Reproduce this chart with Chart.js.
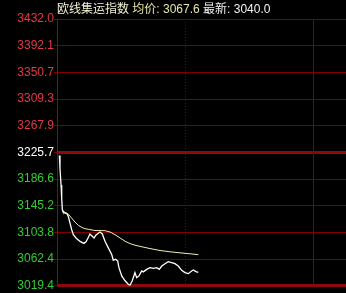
<!DOCTYPE html>
<html>
<head>
<meta charset="utf-8">
<script src="https://cdn.jsdelivr.net/npm/chart.js@4"></script>
<style>
  html, body { margin: 0; padding: 0; background: #000; }
  #wrap { width: 346px; height: 293px; }
</style>
</head>
<body>
<div id="wrap"><canvas id="minuteChart" width="346" height="293"></canvas></div>
<script>
const titleName = "欧线集运指数";
const avgText = "均价: 3067.6";
const lastText = "最新: 3040.0";

const yTickLabels = ["3019.4", "3062.4", "3103.8", "3145.2", "3186.6", "3225.7",
                     "3267.9", "3309.3", "3350.7", "3392.1", "3432.0"];

// minutes since open
const priceTimes = [2.2, 2.8, 3.8, 4.4, 5.0, 5.6, 7.5, 9.4, 10.6, 12.2, 13.8, 15.3, 17.8, 21.6,
  25.3, 27.2, 29.1, 30.9, 32.8, 34.7, 36.6, 40.3, 42.5, 45, 48.1, 51.3, 52.8, 55, 56.9,
  58.1, 60.7, 63.8, 66.8, 68.4, 70.6, 73.1, 74.7, 76.9, 79.4, 80.9, 84.1, 87.2, 90.3,
  93.5, 95.9, 98.2, 101.3, 104.3, 107.5, 110.6, 113.7, 116.9, 120, 123.1, 126.3, 127.8,
  130.3, 132.5];
const priceValues = [3221.0, 3200.7, 3175.1, 3154.7, 3136.8, 3134.3, 3131.7, 3130.9, 3126.7,
  3116.4, 3106.1, 3098.5, 3093.4, 3088.0, 3085.0, 3087.3, 3093.4, 3099.5, 3096.5, 3093.4,
  3098.0, 3102.6, 3099.5, 3088.3, 3078.1, 3067.8, 3058.9, 3060.5, 3057.7, 3047.4, 3034.7,
  3027.1, 3021.9, 3020.3, 3027.1, 3039.8, 3032.1, 3034.7, 3042.4, 3040.9, 3044.8, 3047.4,
  3046.4, 3047.4, 3044.8, 3050.0, 3053.6, 3056.6, 3055.1, 3053.6, 3050.0, 3043.3, 3039.8,
  3038.2, 3042.4, 3043.9, 3041.3, 3040.0];

const avgTimes = [5.6, 8.4, 10.6, 13.8, 16.9, 20, 23.2, 26.3, 29.3, 35.6, 45, 49.7, 54.4,
  59.1, 63.8, 68.4, 73.1, 77.8, 87.2, 96.6, 105.9, 115.3, 124.7, 132.5];
const avgValues = [3134.3, 3132.5, 3130.2, 3124.0, 3117.9, 3112.9, 3109.8, 3107.7, 3106.8,
  3104.9, 3104.6, 3102.6, 3098.5, 3093.4, 3088.3, 3084.7, 3082.2, 3080.4, 3077.0, 3074.0,
  3072.0, 3070.4, 3068.9, 3067.6];

const sessionMid = 120;
const sessionEnd = 240;
const xMax = 271;

const yMin = parseFloat(yTickLabels[0]);
const yMax = parseFloat(yTickLabels[yTickLabels.length - 1]);
const midIndex = 5;

function labelColor(i) {
  if (i === midIndex) return "#ffffff";
  return i > midIndex ? "#e23a48" : "#33cc33";
}

const bgPlugin = {
  id: "bg",
  beforeDraw(chart) {
    const c = chart.ctx;
    c.save();
    c.fillStyle = "#000";
    c.fillRect(0, 0, chart.width, chart.height);
    c.restore();
  }
};

const sessionLines = {
  id: "sessionLines",
  beforeDatasetsDraw(chart) {
    const c = chart.ctx;
    const xs = chart.scales.x;
    const area = chart.chartArea;
    c.save();
    c.strokeStyle = "#800000";
    c.lineWidth = 1;
    // solid session end
    let px = Math.round(xs.getPixelForValue(sessionEnd)) + 0.5;
    c.beginPath();
    c.moveTo(px, area.top);
    c.lineTo(px, area.bottom);
    c.stroke();
    // dotted midday
    px = Math.round(xs.getPixelForValue(sessionMid)) + 0.5;
    c.setLineDash([1, 2]);
    c.beginPath();
    c.moveTo(px, area.top);
    c.lineTo(px, area.bottom);
    c.stroke();
    c.restore();
  }
};

const titlePlugin = {
  id: "titleText",
  afterDraw(chart) {
    const c = chart.ctx;
    c.save();
    c.font = '12px "Liberation Sans", "Noto Sans CJK SC", sans-serif';
    c.textBaseline = "alphabetic";
    let x = 57;
    const y = 13;
    const parts = [[titleName + " ", "#f2f2d2"], [avgText + " ", "#e6e6a6"], [lastText, "#f0f0f0"]];
    parts.forEach(([t, col]) => {
      c.fillStyle = col;
      c.fillText(t, x, y);
      x += c.measureText(t).width;
    });
    c.restore();
  }
};

const ctx = document.getElementById("minuteChart").getContext("2d");
const chart = new Chart(ctx, {
  type: "line",
  data: {
    datasets: [
      {
        label: "均价",
        data: avgTimes.map((t, i) => ({ x: t, y: avgValues[i] })),
        borderColor: "#efefb4",
        borderWidth: 1,
        pointRadius: 0,
        tension: 0
      },
      {
        label: "价格",
        data: priceTimes.map((t, i) => ({ x: t, y: priceValues[i] })),
        borderColor: "#ffffff",
        borderWidth: 1.3,
        pointRadius: 0,
        tension: 0
      }
    ]
  },
  options: {
    responsive: false,
    animation: false,
    layout: { padding: { top: 19, bottom: 5, left: 0, right: 0 } },
    plugins: { legend: { display: false }, tooltip: { enabled: false } },
    scales: {
      x: { type: "linear", min: 0, max: xMax, display: false },
      y: {
        type: "linear",
        min: yMin,
        max: yMax,
        afterFit(scale) { scale.width = 57; },
        afterBuildTicks(scale) {
          scale.ticks = yTickLabels.map((l, i) => ({ value: yMin + i * (yMax - yMin) / (yTickLabels.length - 1) }));
        },
        border: { display: true, color: "#8c0a0a", width: 1 },
        grid: {
          color: ctx => (ctx.index === 0 || ctx.index === midIndex) ? "#8c0a0a" : "#800000",
          lineWidth: ctx => (ctx.index === 0 || ctx.index === midIndex) ? 3 : 1,
          tickLength: 3,
          tickColor: "#800000",
          tickWidth: 1
        },
        ticks: {
          padding: 0,
          color: ctx => labelColor(ctx.index),
          font: { family: '"Liberation Sans", Arial, sans-serif', size: 12 },
          callback: (v, i) => yTickLabels[i]
        }
      }
    }
  },
  plugins: [bgPlugin, sessionLines, titlePlugin]
});
</script>
</body>
</html>
